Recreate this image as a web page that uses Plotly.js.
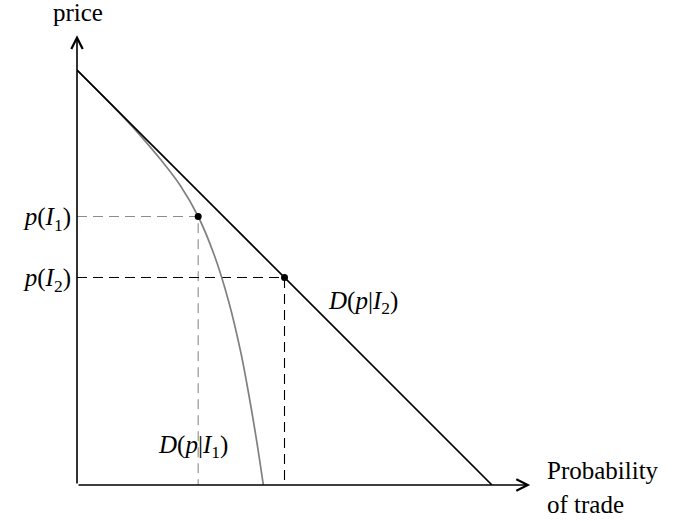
<!DOCTYPE html>
<html>
<head>
<meta charset="utf-8">
<script src="https://cdn.plot.ly/plotly-3.0.1.min.js"></script>
<style>html,body{margin:0;padding:0;background:#fff;}#chart{width:677px;height:521px;}</style>
</head>
<body>
<div id="chart"></div>
<script>
// Demand line D(p|I2)
const lineQ = [0, 10];
const lineP = [10, 0];
// Curve D(p|I1)
const curveQ = [0, 0.5, 1.0, 1.5, 2.0, 2.5, 2.92, 3.3, 3.65, 3.95, 4.15, 4.33, 4.49];
const curveP = [10, 9.5, 8.99, 8.45, 7.86, 7.2, 6.47, 5.56, 4.44, 3.18, 2.12, 1.06, 0];
// Equilibrium points
const pointQ = [2.92, 5.0];
const pointP = [6.47, 5.0];
// Tick labels on price axis
const tickVals = [6.47, 5.0];
const tickText = ['<i>p</i>(<i>I</i><sub>1</sub>)', '<i>p</i>(<i>I</i><sub>2</sub>)'];
// Axis extents
const xAxisEnd = 10.92;
const yAxisEnd = 10.84;

const FONT = 'Liberation Serif, Times New Roman, serif';
const FS = 25;

const traces = [
  {x:[0, pointQ[0], pointQ[0]], y:[pointP[0], pointP[0], 0], mode:'lines',
   line:{color:'#8c8c8c', width:1.1, dash:'10px,6px'}, hoverinfo:'skip'},
  {x:[0, pointQ[1], pointQ[1]], y:[pointP[1], pointP[1], 0], mode:'lines',
   line:{color:'#000', width:1.1, dash:'10px,6px'}, hoverinfo:'skip'},
  {x:curveQ, y:curveP, mode:'lines', line:{color:'#808080', width:1.7, shape:'spline', smoothing:1}, hoverinfo:'skip'},
  {x:lineQ, y:lineP, mode:'lines', line:{color:'#000', width:1.7}, hoverinfo:'skip'},
  {x:pointQ, y:pointP, mode:'markers', marker:{color:'#000', size:7}, hoverinfo:'skip'}
];

const W = 600, H = 485, S = 41.5;
function px(x){return (x-77)/W;}
function py(y){return (485-y)/H;}

const layout = {
  width:677, height:521,
  margin:{l:77, r:0, t:0, b:36, pad:0},
  paper_bgcolor:'#fff', plot_bgcolor:'#fff',
  showlegend:false,
  xaxis:{range:[0, W/S], showgrid:false, zeroline:false, showline:false, showticklabels:false, ticks:'', fixedrange:true},
  yaxis:{range:[0, H/S], showgrid:false, zeroline:false, showline:false, ticks:'',
         tickvals:tickVals, ticktext:tickText, ticklabelstandoff:5,
         tickfont:{family:FONT, size:FS, color:'#000'}, fixedrange:true},
  annotations:[
    {x:xAxisEnd, y:0, ax:0, ay:0, xref:'x', yref:'y', axref:'x', ayref:'y', text:'', showarrow:true,
     arrowhead:5, arrowsize:1.4, arrowwidth:1.6, arrowcolor:'#000'},
    {x:0, y:yAxisEnd, ax:0, ay:0, xref:'x', yref:'y', axref:'x', ayref:'y', text:'', showarrow:true,
     arrowhead:5, arrowsize:1.4, arrowwidth:1.6, arrowcolor:'#000'},
    {x:px(78), y:py(12), xref:'paper', yref:'paper', text:'price', showarrow:false,
     xanchor:'center', yanchor:'middle', font:{family:FONT, size:FS, color:'#000'}},
    {x:px(545), y:py(470), xref:'paper', yref:'paper', text:'Probability', showarrow:false,
     xanchor:'left', yanchor:'middle', font:{family:FONT, size:FS, color:'#000'}},
    {x:px(545), y:py(504), xref:'paper', yref:'paper', text:'of trade', showarrow:false,
     xanchor:'left', yanchor:'middle', font:{family:FONT, size:FS, color:'#000'}},
    {x:px(326), y:py(302), xref:'paper', yref:'paper', text:'<i>D</i>(<i>p</i>|<i>I</i><sub>2</sub>)', showarrow:false,
     xanchor:'left', yanchor:'middle', font:{family:FONT, size:FS, color:'#000'}},
    {x:px(156), y:py(446), xref:'paper', yref:'paper', text:'<i>D</i>(<i>p</i>|<i>I</i><sub>1</sub>)', showarrow:false,
     xanchor:'left', yanchor:'middle', font:{family:FONT, size:FS, color:'#000'}}
  ]
};

Plotly.newPlot('chart', traces, layout, {staticPlot:true, displayModeBar:false});
</script>
</body>
</html>
